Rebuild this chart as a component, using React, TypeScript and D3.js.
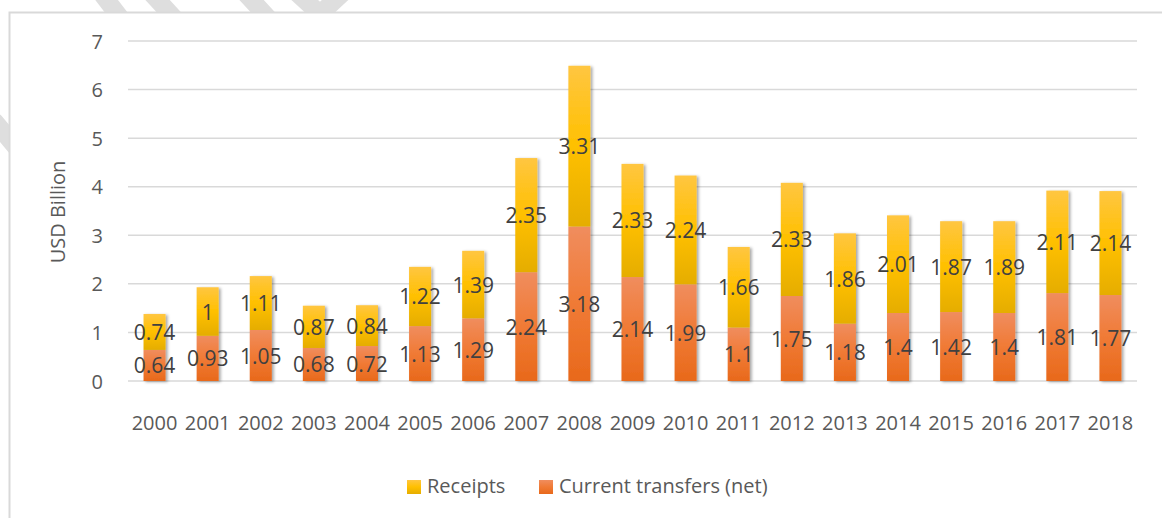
import React, { useRef, useEffect } from "react";
import * as d3 from "d3";

const W = 1162;
const H = 518;

const years = [
  "2000", "2001", "2002", "2003", "2004", "2005", "2006", "2007", "2008", "2009",
  "2010", "2011", "2012", "2013", "2014", "2015", "2016", "2017", "2018",
];
const transfers = [
  0.64, 0.93, 1.05, 0.68, 0.72, 1.13, 1.29, 2.24, 3.18, 2.14,
  1.99, 1.1, 1.75, 1.18, 1.4, 1.42, 1.4, 1.81, 1.77,
];
const receipts = [
  0.74, 1, 1.11, 0.87, 0.84, 1.22, 1.39, 2.35, 3.31, 2.33,
  2.24, 1.66, 2.33, 1.86, 2.01, 1.87, 1.89, 2.11, 2.14,
];
const yTicks = [0, 1, 2, 3, 4, 5, 6, 7];
const seriesNames = ["Receipts", "Current transfers (net)"];

const font = "'Open Sans', sans-serif";

export default function App() {
  const ref = useRef<SVGSVGElement | null>(null);

  useEffect(() => {
    const svg = d3.select(ref.current);
    svg.selectAll("*").remove();

    const defs = svg.append("defs");
    const grad = (id: string, stops: [number, string][]) => {
      const g = defs
        .append("linearGradient")
        .attr("id", id)
        .attr("x1", 0).attr("y1", 0).attr("x2", 0).attr("y2", 1);
      stops.forEach(([o, c]) => g.append("stop").attr("offset", o).attr("stop-color", c));
    };
    grad("gOrange", [[0, "#F08D5E"], [0.5, "#F07A35"], [1, "#E8691B"]]);
    grad("gYellow", [[0, "#FFC641"], [0.5, "#FFC000"], [1, "#E5AD00"]]);
    const f = defs.append("filter").attr("id", "shadow")
      .attr("x", "-30%").attr("y", "-10%").attr("width", "160%").attr("height", "120%");
    f.append("feDropShadow").attr("dx", 2).attr("dy", 1)
      .attr("stdDeviation", 1.6).attr("flood-color", "#000").attr("flood-opacity", 0.35);

    // faint watermark strokes behind the chart box
    const wm = svg.append("g").attr("stroke", "#dedede").attr("stroke-width", 18)
      .attr("stroke-linecap", "round").attr("fill", "none");
    wm.append("path").attr("d", "M-5,122L20,152");
    wm.append("path").attr("d", "M102,-6L122,20");
    wm.append("path").attr("d", "M152,-6L176,20");
    wm.append("path").attr("d", "M246,-6L270,20");
    wm.append("path").attr("d", "M296,-8L320,14L348,-12");

    svg.append("rect")
      .attr("x", 9.5).attr("y", 12.5).attr("width", W).attr("height", H)
      .attr("fill", "#fff").attr("stroke", "#d9d9d9").attr("stroke-width", 2);

    const x = d3.scaleBand<string>()
      .domain(years)
      .range([128, 1137])
      .paddingInner(0.585)
      .paddingOuter(0.2925);
    const y = d3.scaleLinear().domain([0, 7]).range([381, 41]);

    // gridlines
    svg.append("g").selectAll("line").data(yTicks).enter().append("line")
      .attr("x1", 128).attr("x2", 1137)
      .attr("y1", (d) => y(d)).attr("y2", (d) => y(d))
      .attr("stroke", "#d9d9d9").attr("stroke-width", 1.5);

    svg.append("g").selectAll("text").data(yTicks).enter().append("text")
      .attr("x", 103).attr("y", (d) => y(d))
      .attr("text-anchor", "end").attr("dominant-baseline", "central")
      .attr("font-family", font).attr("font-size", 20).attr("fill", "#595959")
      .text((d) => d);

    svg.append("text")
      .attr("transform", `translate(${57},${212}) rotate(-90)`)
      .attr("text-anchor", "middle").attr("dominant-baseline", "central")
      .attr("font-family", font).attr("font-size", 20).attr("fill", "#595959")
      .text("USD Billion");

    const rows = years.map((yr, i) => ({ yr, t: transfers[i], r: receipts[i] }));

    const bars = svg.append("g").attr("filter", "url(#shadow)");
    bars.selectAll("rect.t").data(rows).enter().append("rect")
      .attr("x", (d) => x(d.yr)!).attr("width", x.bandwidth())
      .attr("y", (d) => y(d.t)).attr("height", (d) => y(0) - y(d.t))
      .attr("fill", "url(#gOrange)");
    bars.selectAll("rect.r").data(rows).enter().append("rect")
      .attr("x", (d) => x(d.yr)!).attr("width", x.bandwidth())
      .attr("y", (d) => y(d.t + d.r)).attr("height", (d) => y(d.t) - y(d.t + d.r))
      .attr("fill", "url(#gYellow)");

    const lab = svg.append("g")
      .attr("font-family", font).attr("font-size", 21).attr("fill", "#404040")
      .attr("text-anchor", "middle").attr("dominant-baseline", "central");
    lab.selectAll("text.t").data(rows).enter().append("text")
      .attr("x", (d) => x(d.yr)! + x.bandwidth() / 2)
      .attr("y", (d) => y(d.t / 2))
      .text((d) => d.t);
    lab.selectAll("text.r").data(rows).enter().append("text")
      .attr("x", (d) => x(d.yr)! + x.bandwidth() / 2)
      .attr("y", (d) => y(d.t + d.r / 2))
      .text((d) => d.r);

    svg.append("g").selectAll("text").data(years).enter().append("text")
      .attr("x", (d) => x(d)! + x.bandwidth() / 2).attr("y", 430)
      .attr("text-anchor", "middle")
      .attr("font-family", font).attr("font-size", 20).attr("fill", "#595959")
      .text((d) => d);

    // legend
    const legend = [
      { name: seriesNames[0], fill: "url(#gYellow)", x: 407 },
      { name: seriesNames[1], fill: "url(#gOrange)", x: 539 },
    ];
    const lg = svg.append("g").selectAll("g").data(legend).enter().append("g")
      .attr("transform", (d) => `translate(${d.x},480)`);
    lg.append("rect").attr("width", 14).attr("height", 14).attr("fill", (d) => d.fill);
    lg.append("text").attr("x", 20).attr("y", 13)
      .attr("font-family", font).attr("font-size", 20).attr("fill", "#595959")
      .text((d) => d.name);
  }, []);

  return (
    <svg
      ref={ref}
      width={W}
      height={H}
      style={{ position: "fixed", left: 0, top: 0, background: "#fff" }}
    />
  );
}
